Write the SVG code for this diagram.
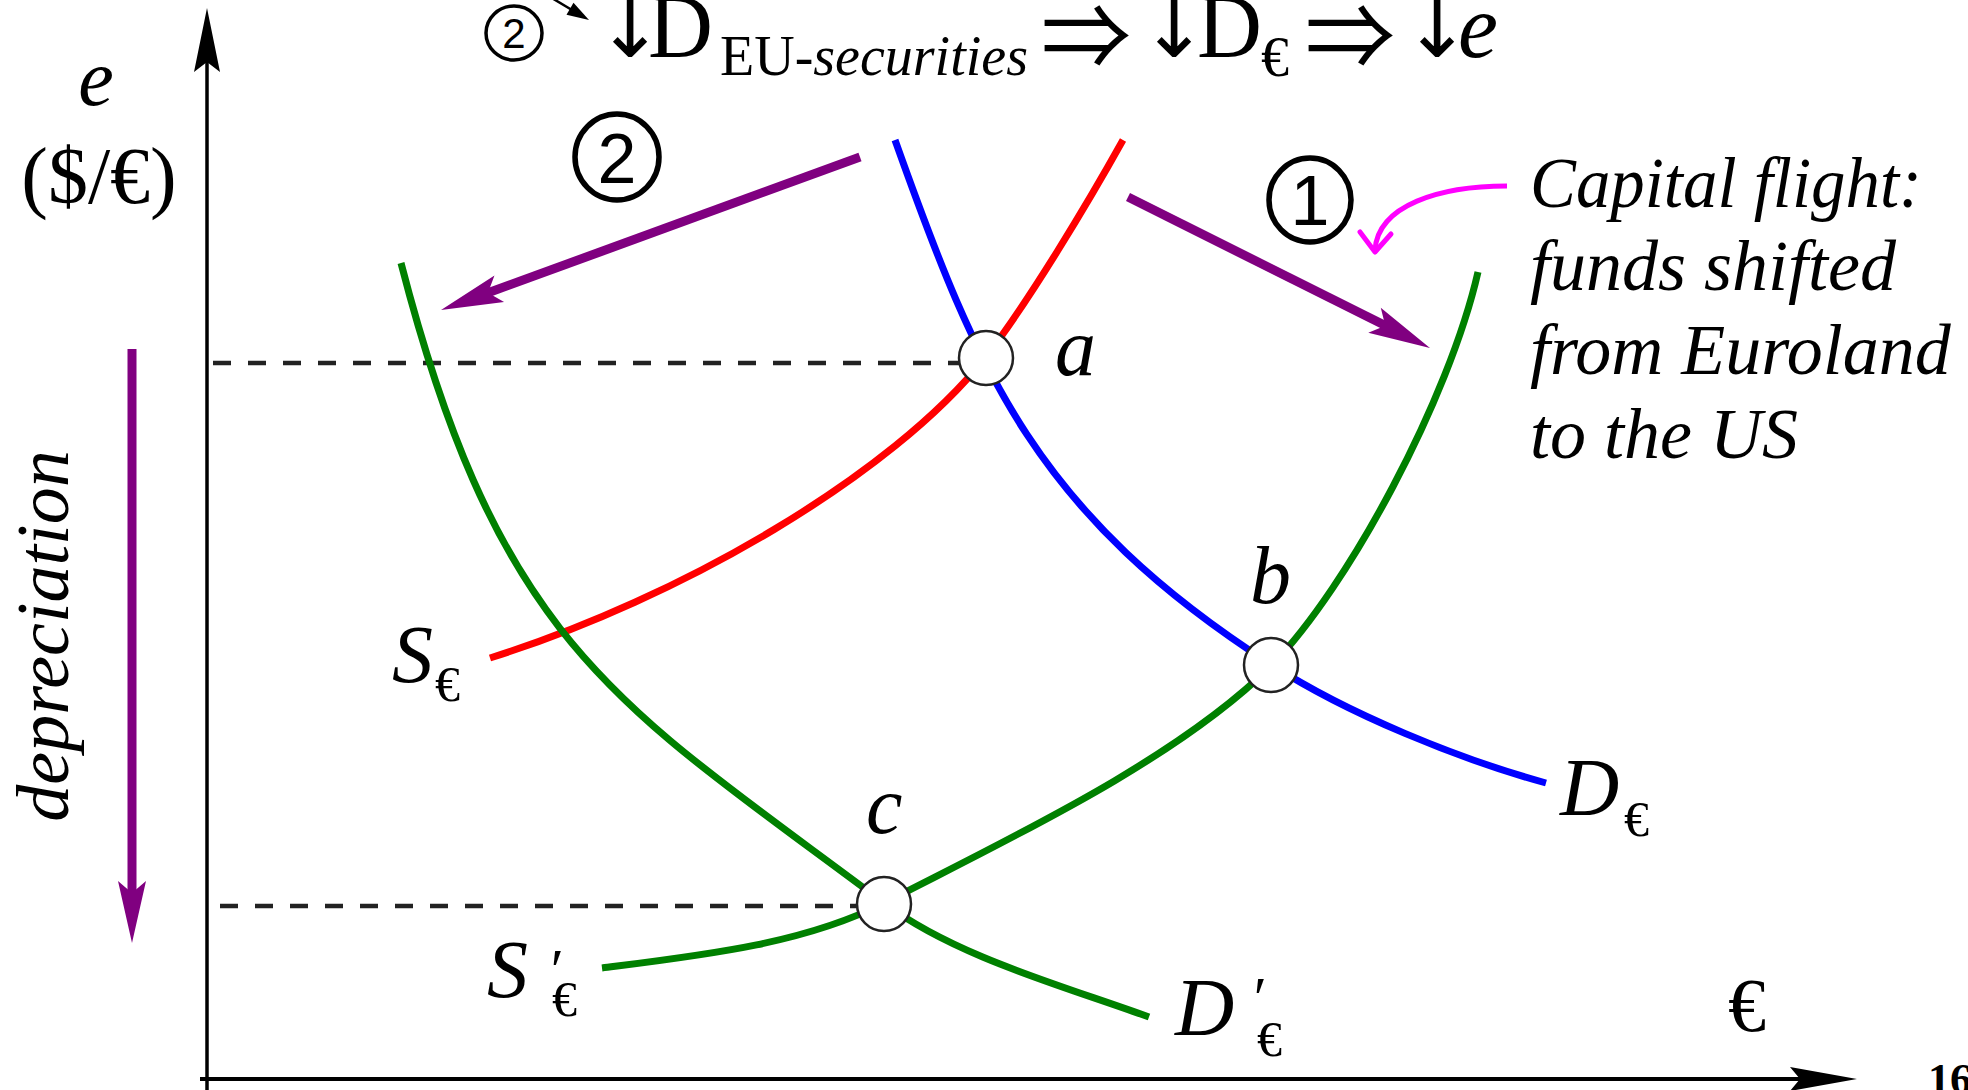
<svg xmlns="http://www.w3.org/2000/svg" width="1968" height="1090" viewBox="0 0 1968 1090">
<defs>
<style>
.serif{font-family:"Liberation Serif","DejaVu Serif",serif;fill:#000}
.it{font-style:italic}
.up{font-style:normal}
.sans{font-family:"Liberation Sans","DejaVu Sans",sans-serif;fill:#000}
.arr{font-family:"DejaVu Sans","Liberation Serif",sans-serif;font-style:normal}
.darr{font-family:"Noto Sans CJK JP","DejaVu Sans",sans-serif;font-style:normal}
.curve{fill:none;stroke-width:7;stroke-linecap:butt}
.dash{fill:none;stroke:#222;stroke-width:4.5;stroke-dasharray:18 17}
.purple{fill:none;stroke:#800080;stroke-width:9}
.pt{fill:#fff;stroke:#222;stroke-width:2.5}
.ring{fill:none;stroke:#000}
</style>
<marker id="ph" markerUnits="userSpaceOnUse" viewBox="-30 -20 75 40" refX="0" refY="0" markerWidth="75" markerHeight="40" orient="auto">
<path d="M40,0 L-22,-14 L-10,0 L-22,14 Z" fill="#800080"/>
</marker>
</defs>
<rect width="1968" height="1090" fill="#fff"/>

<g id="axes">
<line x1="207" y1="1090" x2="207" y2="62" stroke="#000" stroke-width="3.5"/>
<polygon points="207,8 194,72 207,62 220,72" fill="#000"/>
<line x1="200" y1="1079" x2="1800" y2="1079" stroke="#000" stroke-width="4"/>
<polygon points="1857,1079 1790,1067 1800,1079 1790,1091" fill="#000"/>
<text class="serif it" x="96" y="105" font-size="80" text-anchor="middle">e</text>
<text class="serif" x="99" y="203" font-size="80" text-anchor="middle">($/€)</text>
<text class="serif" x="1728" y="1031" font-size="76">€</text>
<text class="serif" x="1928" y="1094" font-size="44" font-weight="bold">16</text>
<text class="serif it" font-size="74" text-anchor="middle" transform="translate(68,636) rotate(-90)">depreciation</text>
</g>

<g id="equation">
<line x1="530" y1="-15" x2="572" y2="10" stroke="#000" stroke-width="2.5"/>
<polygon points="589,20 566.5,14.8 573.5,2.8" fill="#000"/>
<ellipse class="ring" cx="514" cy="33" rx="28" ry="27" stroke-width="3.5"/>
<text class="serif" font-size="90"><tspan class="sans" x="514" y="48" font-size="42" text-anchor="middle">2</tspan><tspan class="arr" x="630" y="57" font-size="80" text-anchor="middle">↓</tspan><tspan x="648" y="57">D</tspan><tspan x="720" y="75" font-size="56">EU-</tspan><tspan class="it" font-size="56">securities</tspan><tspan class="darr" x="1086" y="69" text-anchor="middle">⇒</tspan><tspan class="arr" x="1174" y="57" font-size="80" text-anchor="middle">↓</tspan><tspan x="1197" y="57">D</tspan><tspan x="1261" y="76" font-size="56">€</tspan><tspan class="darr" x="1350" y="69" text-anchor="middle">⇒</tspan><tspan class="arr" x="1437" y="57" font-size="80" text-anchor="middle">↓</tspan><tspan class="it" x="1458" y="57">e</tspan></text>
</g>

<g id="connectors">
<line class="dash" x1="213" y1="363" x2="960" y2="363"/>
<line class="dash" x1="220" y1="906" x2="860" y2="906"/>
<path id="curve-D" class="curve" stroke="#0000ff" d="M895,140 C979,376 1037,514 1272,665 C1348,714 1459,759 1546,783"/>
<path id="curve-S" class="curve" stroke="#ff0000" d="M490,658 C681,598 892,475 985,358 C1028,303 1089,201 1123,140"/>
<path id="curve-D2" class="curve" stroke="#008000" d="M401,263 C501,650 620,705 884,903 C956,957 1064,986 1149,1017"/>
<path id="curve-S2" class="curve" stroke="#008000" d="M602,968 C701,955.5 804,944 884,903 C1004,841 1176,761 1272,665 C1349,586 1449,399 1478,272"/>
<line class="purple" x1="860" y1="157" x2="478.6" y2="296.3" marker-end="url(#ph)"/>
<line class="purple" x1="1128" y1="197" x2="1394.2" y2="330.1" marker-end="url(#ph)"/>
<line class="purple" x1="132" y1="349" x2="132" y2="903" marker-end="url(#ph)"/>
<path d="M1507,186 C1440,186 1378,205 1375,250" fill="none" stroke="#ff00ff" stroke-width="5"/>
<polyline points="1360,232 1375,252 1391,234" fill="none" stroke="#ff00ff" stroke-width="5" stroke-linejoin="round" stroke-linecap="round"/>
</g>

<g id="node-a">
<circle class="pt" cx="986" cy="358" r="27"/>
<text class="serif it" x="1055" y="375" font-size="82">a</text>
</g>
<g id="node-b">
<circle class="pt" cx="1271" cy="665" r="27"/>
<text class="serif it" x="1250" y="603" font-size="82">b</text>
</g>
<g id="node-c">
<circle class="pt" cx="884" cy="904" r="27"/>
<text class="serif it" x="866" y="833" font-size="82">c</text>
</g>

<g id="step-2">
<ellipse class="ring" cx="617" cy="157" rx="42" ry="43" stroke-width="5.5"/>
<text class="sans" x="617" y="183" font-size="70" text-anchor="middle">2</text>
</g>
<g id="step-1">
<ellipse class="ring" cx="1310" cy="200" rx="41" ry="42" stroke-width="5.5"/>
<text class="sans" x="1310" y="225" font-size="70" text-anchor="middle">1</text>
</g>

<g id="curve-labels">
<text class="serif it" x="392" y="682" font-size="82">S<tspan class="up" x="435" y="701" font-size="50">€</tspan></text>
<text class="serif it" x="1560" y="815" font-size="82">D<tspan class="up" x="1624" y="836" font-size="50">€</tspan></text>
<text class="serif it" x="487" y="997" font-size="82">S<tspan x="547" y="990" font-size="60">′</tspan><tspan class="up" x="552" y="1016" font-size="50">€</tspan></text>
<text class="serif it" x="1175" y="1035" font-size="82">D<tspan x="1250" y="1018" font-size="60">′</tspan><tspan class="up" x="1257" y="1056" font-size="50">€</tspan></text>
</g>

<g id="note">
<text class="serif it" x="1530" y="207" font-size="72" textLength="392" lengthAdjust="spacingAndGlyphs">Capital flight:</text>
<text class="serif it" x="1530" y="290" font-size="72">funds shifted</text>
<text class="serif it" x="1530" y="374" font-size="72">from Euroland</text>
<text class="serif it" x="1530" y="458" font-size="72">to the US</text>
</g>
</svg>
